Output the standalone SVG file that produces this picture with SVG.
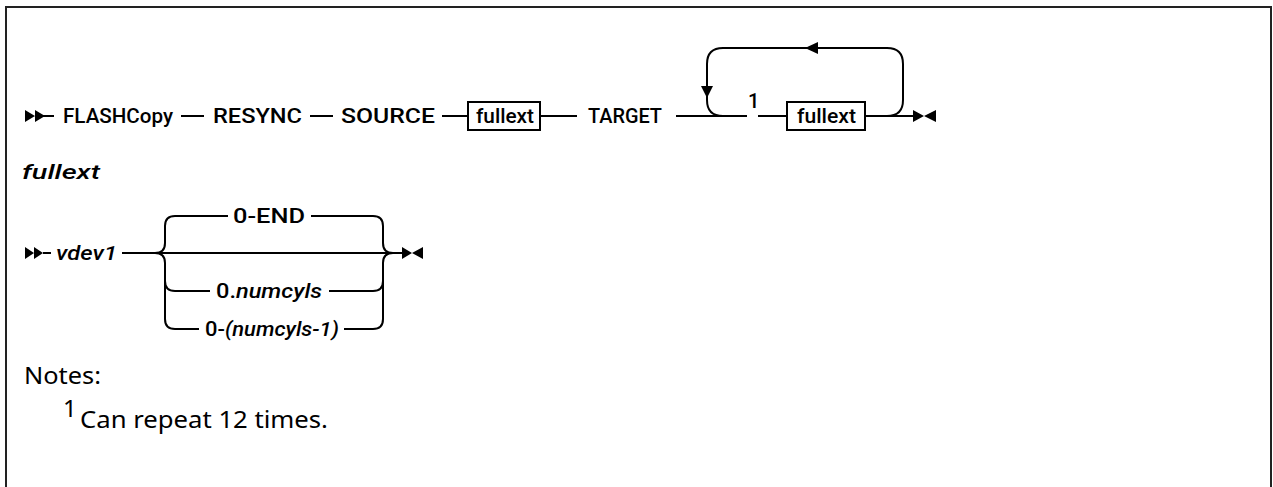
<svg xmlns="http://www.w3.org/2000/svg" width="1273" height="487" viewBox="0 0 1273 487">
<style>
.t{font-family:Roboto,"Liberation Sans",Arial,sans-serif;font-weight:500;font-size:20px;fill:#000}
.it{font-style:italic}
.ln{fill:none;stroke:#000;stroke-width:2}
.box{fill:#fff;stroke:#000;stroke-width:2}
.mk{fill:#000;stroke:none}
.note{font-family:"Noto Sans","Liberation Sans",sans-serif;font-size:24px;fill:#000}
</style>
<rect x="0" y="0" width="1273" height="487" fill="#fff"/>
<path d="M6,490 V7 H1271 V490" fill="none" stroke="#222" stroke-width="2"/>
<g id="connectors">
  <path class="ln" d="M35,116 H54"/>
  <path class="ln" d="M181,116 H204"/>
  <path class="ln" d="M310,116 H333"/>
  <path class="ln" d="M442,116 H468"/>
  <path class="ln" d="M540,116 H577"/>
  <path class="ln" d="M676,116 H747"/>
  <path class="ln" d="M758,116 H787"/>
  <path class="ln" d="M865,116 H913"/>
  <path class="ln" d="M723,116 Q707,116 707,100 V64 Q707,48 723,48 H887 Q903,48 903,64 V100 Q903,116 887,116"/>
  <path class="mk" d="M805,48 L818,42 L818,54 Z"/>
  <path class="mk" d="M707,98 L701,86 L713,86 Z"/>
  <path class="ln" d="M43,253 H51"/>
  <path class="ln" d="M122,253 H402"/>
  <path class="ln" d="M155,253 Q165,253 165,243 V226 Q165,216 175,216 H228"/>
  <path class="ln" d="M311,216 H373 Q383,216 383,226 V243 Q383,253 393,253"/>
  <path class="ln" d="M155,253 Q165,253 165,263 V281 Q165,291 175,291 H210"/>
  <path class="ln" d="M329,291 H373 Q383,291 383,281 V263 Q383,253 393,253"/>
  <path class="ln" d="M165,281 V319 Q165,329 175,329 H199"/>
  <path class="ln" d="M344,329 H373 Q383,329 383,319 V281"/>
</g>
<g id="start1"><path class="mk" d="M25,110 L35,116 L25,122 Z M35,110 L45,116 L35,122 Z"/></g>
<g id="flashcopy"><text class="t" x="63" y="123" textLength="110" lengthAdjust="spacingAndGlyphs">FLASHCopy</text></g>
<g id="resync"><text class="t" x="213" y="123" textLength="89" lengthAdjust="spacingAndGlyphs">RESYNC</text></g>
<g id="source"><text class="t" x="341" y="123" textLength="94" lengthAdjust="spacingAndGlyphs">SOURCE</text></g>
<g id="fullext1"><rect class="box" x="468" y="102" width="72" height="28"/><text class="t" x="476" y="123" textLength="58" lengthAdjust="spacingAndGlyphs">fullext</text></g>
<g id="target"><text class="t" x="588" y="123" textLength="74" lengthAdjust="spacingAndGlyphs">TARGET</text></g>
<g id="note-ref"><text class="t" x="748" y="108" font-size="18">1</text></g>
<g id="fullext2"><rect class="box" x="787" y="102" width="78" height="28"/><text class="t" x="797" y="123" textLength="59" lengthAdjust="spacingAndGlyphs">fullext</text></g>
<g id="end1"><path class="mk" d="M913,110 L924,116 L913,122 Z M936,110 L924,116 L936,122 Z"/></g>
<g id="heading"><text class="t it" x="22" y="179" font-size="24" font-weight="bold" textLength="78" lengthAdjust="spacingAndGlyphs">fullext</text></g>
<g id="start2"><path class="mk" d="M25,247 L34,253 L25,259 Z M34,247 L43,253 L34,259 Z"/></g>
<g id="vdev1"><text class="t it" x="56" y="260" textLength="61" lengthAdjust="spacingAndGlyphs">vdev1</text></g>
<g id="opt-0end"><text class="t" x="233" y="223" textLength="72" lengthAdjust="spacingAndGlyphs">0-END</text></g>
<g id="opt-numcyls"><text class="t" x="216" y="298" textLength="106" lengthAdjust="spacingAndGlyphs">0.<tspan class="it">numcyls</tspan></text></g>
<g id="opt-numcyls1"><text class="t" x="205" y="336" textLength="134" lengthAdjust="spacingAndGlyphs">0-<tspan class="it">(numcyls-1)</tspan></text></g>
<g id="end2"><path class="mk" d="M402,247 L412,253 L402,259 Z M423,247 L412,253 L423,259 Z"/></g>
<g id="notes">
  <text class="note" x="24" y="384" textLength="77" lengthAdjust="spacingAndGlyphs">Notes:</text>
  <text class="note" x="63" y="417" font-size="16">1</text>
  <text class="note" x="80" y="428" textLength="248" lengthAdjust="spacingAndGlyphs">Can repeat 12 times.</text>
</g>
</svg>
